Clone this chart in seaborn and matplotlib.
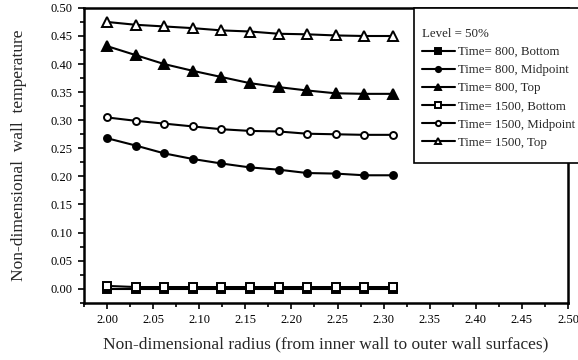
import numpy as np
import pandas as pd
import matplotlib
matplotlib.use("Agg")
import matplotlib.pyplot as plt
from matplotlib.patches import Rectangle
import seaborn as sns

radius = [2.000, 2.031, 2.062, 2.093, 2.124, 2.155, 2.186, 2.217, 2.248, 2.279, 2.310]
t800_bottom = [0.000, 0.000, 0.000, 0.000, 0.000, 0.000, 0.000, 0.000, 0.000, 0.000, 0.000]
t800_mid = [0.268, 0.255, 0.241, 0.231, 0.223, 0.216, 0.212, 0.206, 0.205, 0.202, 0.202]
t800_top = [0.432, 0.416, 0.400, 0.388, 0.377, 0.366, 0.359, 0.353, 0.348, 0.347, 0.347]
t1500_bottom = [0.005, 0.003, 0.003, 0.003, 0.003, 0.003, 0.003, 0.003, 0.003, 0.003, 0.003]
t1500_mid = [0.305, 0.299, 0.294, 0.289, 0.284, 0.281, 0.280, 0.276, 0.275, 0.274, 0.274]
t1500_top = [0.475, 0.470, 0.467, 0.464, 0.460, 0.458, 0.454, 0.453, 0.451, 0.450, 0.450]

labels = ["Time= 800, Bottom", "Time= 800, Midpoint", "Time= 800, Top",
          "Time= 1500, Bottom", "Time= 1500, Midpoint", "Time= 1500, Top"]
series = [t800_bottom, t800_mid, t800_top, t1500_bottom, t1500_mid, t1500_top]
markers = ["s", "o", "^", "s", "o", "^"]
filled = [True, True, True, False, False, False]
msizes = [5.5, 5, 6.5, 5.5, 5, 6.5]

sns.set_theme(style="ticks")
plt.rcParams['font.family'] = ['Liberation Serif', 'DejaVu Serif']

fig = plt.figure(figsize=(5.78, 3.6), dpi=100)
ax = fig.add_axes([0.1453, 0.159, 0.9827 - 0.1453, 0.978 - 0.159])

for lab, vals, m, f, ms in zip(labels, series, markers, filled, msizes):
    df = pd.DataFrame({"r": radius, "v": vals})
    sns.lineplot(data=df, x="r", y="v", ax=ax, color="black", marker=m,
                 markersize=ms, markerfacecolor="black" if f else "white",
                 markeredgecolor="black", markeredgewidth=1.4, linewidth=1.5,
                 label=lab)

ax.set_xlim(1.975, 2.50)
ax.set_ylim(-0.025, 0.50)
ax.set_xticks(np.arange(2.00, 2.501, 0.05))
ax.set_xticks(np.arange(1.975, 2.501, 0.025), minor=True)
ax.set_yticks(np.arange(0.0, 0.501, 0.05))
ax.set_yticks(np.arange(-0.025, 0.501, 0.025), minor=True)
ax.xaxis.set_major_formatter(matplotlib.ticker.FormatStrFormatter("%.2f"))
ax.yaxis.set_major_formatter(matplotlib.ticker.FormatStrFormatter("%.2f"))
ax.tick_params(which="major", direction="out", length=4.3, width=1.2, colors="black",
               labelsize=9, pad=4)
ax.tick_params(which="minor", direction="out", length=3, width=1.2, colors="black")
for s in ax.spines.values():
    s.set_visible(True)
    s.set_linewidth(1.8)
    s.set_color("black")

ax.set_xlabel("Non-dimensional radius (from inner wall to outer wall surfaces)",
              fontsize=12.5, labelpad=7)
ax.set_ylabel("Non-dimensional  wall  temperature", fontsize=12.5, labelpad=17)

# legend frame box (extends to the figure edge)
box = Rectangle((414 / 578, 1 - 163 / 360), (580 - 414) / 578, (163 - 8) / 360,
                transform=fig.transFigure, facecolor="white", edgecolor="black",
                linewidth=1.2, zorder=9, clip_on=False)
ax.add_patch(box)

leg = ax.legend(title="Level = 50%", loc="upper left",
                bbox_to_anchor=(422 / 578, 1 - 28 / 360),
                bbox_transform=fig.transFigure,
                borderaxespad=0, borderpad=0, fontsize=9.3, title_fontsize=9.3,
                frameon=False, handlelength=2.55, handletextpad=0.23,
                labelspacing=0.47, alignment="left", markerscale=0.75)
leg.set_zorder(10)

fig.savefig("out.png", dpi=100)
